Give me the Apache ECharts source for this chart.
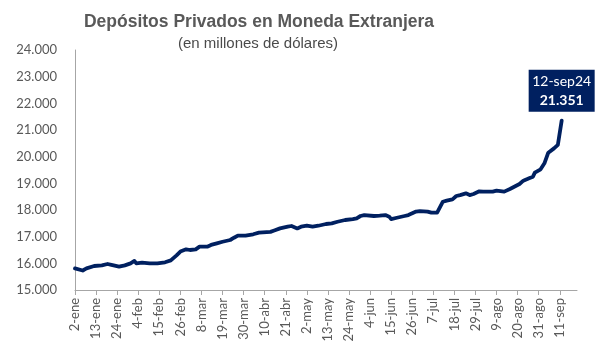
<!DOCTYPE html>
<html>
<head>
<meta charset="utf-8">
<script src="https://cdn.jsdelivr.net/npm/echarts@6/dist/echarts.min.js"></script>
<style>
html,body{margin:0;padding:0;background:#fff;}
#chart{width:601px;height:358px;}
</style>
</head>
<body>
<div id="chart"></div>
<script>
// Calendar used for the daily category axis (2024, leap year)
const monthNames = ['ene','feb','mar','abr','may','jun','jul','ago','sep'];
const monthDays  = [31, 29, 31, 30, 31, 30, 31, 31, 30];
const firstDay = 2;      // 2-ene
const lastAxisDay = 20;  // axis runs until 20-sep

// Readings of the series (date label -> millions of USD)
const pointDates = [
  '2-ene','6-ene','8-ene','12-ene','16-ene','19-ene','21-ene','25-ene','28-ene','31-ene',
  '2-feb','3-feb','6-feb','10-feb','14-feb','18-feb','21-feb','24-feb','26-feb','29-feb',
  '2-mar','5-mar','7-mar','11-mar','13-mar','16-mar','19-mar','23-mar','25-mar','27-mar','31-mar',
  '4-abr','7-abr','13-abr','15-abr','18-abr','22-abr','24-abr','27-abr','29-abr',
  '2-may','5-may','8-may','12-may','15-may','18-may','19-may','22-may','26-may','28-may','30-may',
  '1-jun','2-jun','6-jun','9-jun','12-jun','14-jun','15-jun','18-jun','22-jun','24-jun','28-jun','30-jun',
  '4-jul','6-jul','9-jul','12-jul','14-jul','17-jul','19-jul','21-jul','24-jul','26-jul','28-jul','31-jul',
  '2-ago','7-ago','9-ago','13-ago','16-ago','19-ago','21-ago','23-ago','26-ago','28-ago','29-ago',
  '1-sep','3-sep','5-sep','8-sep','10-sep','12-sep'
];
const pointValues = [
  15810,15730,15810,15900,15925,15975,15940,15875,15925,16000,
  16090,16000,16025,16000,16000,16040,16110,16300,16440,16525,
  16500,16525,16625,16625,16690,16750,16810,16875,16960,17040,17040,
  17090,17150,17180,17230,17310,17375,17400,17310,17375,
  17410,17375,17410,17475,17500,17560,17540,17625,17660,17690,17775,
  17810,17750,17775,17790,17810,17750,17660,17710,17775,17810,17940,17960,
  17940,17900,17900,18310,18350,18400,18525,18560,18625,18560,18600,18700,
  18690,18690,18725,18690,18790,18900,18975,19100,19190,19250,19400,
  19525,19750,20150,20310,20440,21351
];

// Y axis ticks
const yMin = 15000, yMax = 24000, yStep = 1000;

// Annotation
const noteDate = '12-sep';
const noteTitle = '12-sep24';
const noteValue = 21351;

// Build daily categories
const categories = [];
for (let m = 0; m < monthNames.length; m++) {
  const start = (m === 0) ? firstDay : 1;
  const end = (m === monthNames.length - 1) ? lastAxisDay : monthDays[m];
  for (let d = start; d <= end; d++) categories.push(d + '-' + monthNames[m]);
}
const lookup = {};
pointDates.forEach((d, i) => { lookup[d] = pointValues[i]; });
const seriesData = categories.map(c => (c in lookup ? lookup[c] : null));

const fmt = v => String(v).replace(/\B(?=(\d{3})+(?!\d))/g, '.');

const chart = echarts.init(document.getElementById('chart'), null, {renderer: 'canvas'});
chart.setOption({
  animation: false,
  backgroundColor: '#ffffff',
  title: [
    {
      text: 'Depósitos Privados en Moneda Extranjera',
      left: 254, top: 8, textAlign: 'center',
      textStyle: {fontFamily: 'Liberation Sans, Arial', fontWeight: 'bold', fontSize: 17.5, color: '#595959'}
    },
    {
      text: '(en millones de dólares)',
      left: 253, top: 31, textAlign: 'center',
      textStyle: {fontFamily: 'Liberation Sans, Arial', fontWeight: 'normal', fontSize: 15, color: '#4a4a4a'}
    }
  ],
  grid: {left: 75, right: 24, top: 50, bottom: 68, containLabel: false},
  xAxis: {
    type: 'category',
    data: categories,
    boundaryGap: false,
    axisLine: {show: true, lineStyle: {color: '#a6a6a6', width: 1}},
    axisTick: {show: true, interval: 10, length: 5, lineStyle: {color: '#a6a6a6'}},
    axisLabel: {
      interval: 10, rotate: 90, margin: 8,
      fontFamily: 'Lato, Carlito, sans-serif', fontSize: 13, color: '#595959'
    },
    splitLine: {show: false}
  },
  yAxis: {
    type: 'value',
    min: yMin, max: yMax, interval: yStep,
    axisLine: {show: true, lineStyle: {color: '#a6a6a6', width: 1}},
    axisTick: {show: false},
    splitLine: {show: false},
    axisLabel: {
      margin: 18, formatter: fmt,
      fontFamily: 'Lato, Carlito, sans-serif', fontSize: 13, color: '#595959'
    }
  },
  series: [{
    type: 'line',
    data: seriesData,
    connectNulls: true,
    symbol: 'none',
    lineStyle: {color: '#002060', width: 3.8, join: 'round', cap: 'round'},
    markPoint: {
      symbol: 'rect',
      symbolSize: [66, 42],
      symbolOffset: [0, -30],
      itemStyle: {color: '#002060'},
      label: {
        show: true, position: 'inside',
        formatter: '{a|' + noteTitle + '}\n{b|' + fmt(noteValue) + '}',
        rich: {
          a: {fontFamily: 'Lato, Carlito, sans-serif', fontSize: 14, color: '#ffffff', lineHeight: 19, align: 'center'},
          b: {fontFamily: 'Lato, Carlito, sans-serif', fontSize: 14, fontWeight: 'bold', color: '#ffffff', lineHeight: 19, align: 'center'}
        }
      },
      data: [{coord: [noteDate, noteValue], value: noteValue}]
    }
  }]
});
</script>
</body>
</html>
